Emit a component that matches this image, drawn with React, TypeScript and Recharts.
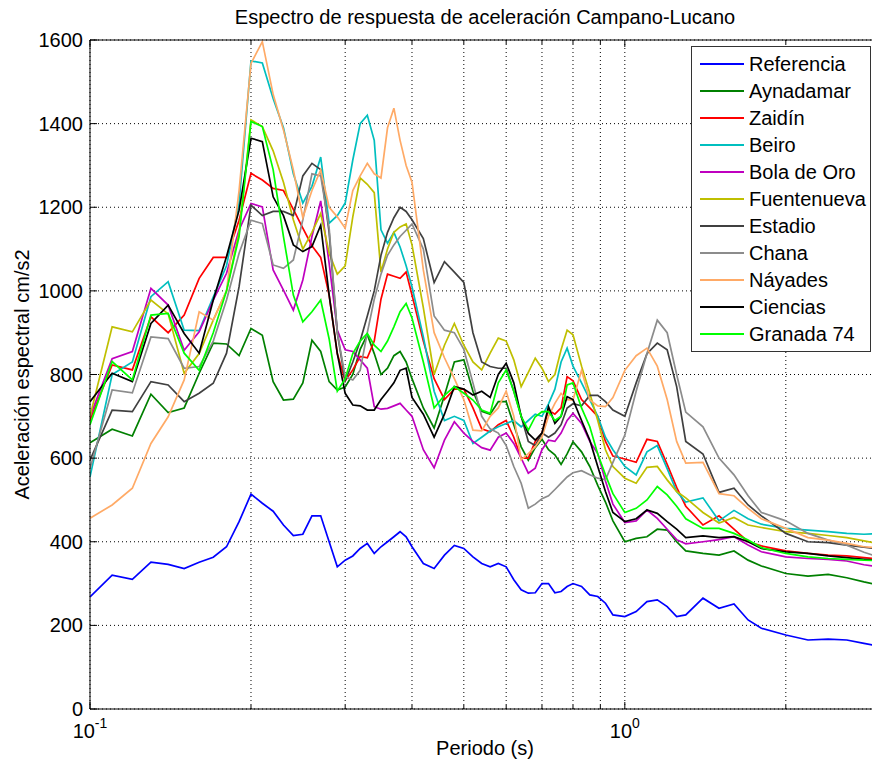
import React from 'react'
import { LineChart, Line, XAxis, YAxis, CartesianGrid, Legend } from 'recharts'

const FONT = '"Liberation Sans", Arial, Helvetica, sans-serif'

// periodo (s)
const periods = [
  0.10, 0.11, 0.12, 0.13, 0.14, 0.15, 0.16, 0.17, 0.18, 0.19,
  0.20, 0.21, 0.22, 0.23, 0.24, 0.25, 0.26, 0.27, 0.28, 0.29,
  0.30, 0.31, 0.32, 0.33, 0.34, 0.35, 0.36, 0.37, 0.38, 0.39,
  0.40, 0.42, 0.44, 0.46, 0.48, 0.50, 0.52, 0.54, 0.56, 0.58,
  0.60, 0.62, 0.64, 0.66, 0.68, 0.70, 0.72, 0.74, 0.76, 0.78,
  0.80, 0.83, 0.86, 0.89, 0.92, 0.95, 1.0, 1.05, 1.1, 1.15,
  1.2, 1.25, 1.3, 1.4, 1.5, 1.6, 1.7, 1.8, 2.0, 2.2,
  2.4, 2.6, 2.8, 3.0,
]

// aceleracion espectral (cm/s2), one value per period
const referencia = [
  268, 320, 310, 351, 346, 336, 351, 363, 388, 448,
  514, 492, 473, 440, 415, 418, 462, 462, 400, 340,
  356, 366, 384, 396, 372, 388, 400, 412, 424, 412,
  388, 348, 336, 368, 391, 384, 364, 348, 340, 348,
  340, 309, 285, 277, 278, 300, 300, 278, 281, 293,
  300, 293, 273, 269, 253, 225, 221, 233, 257, 261,
  245, 221, 225, 265, 241, 251, 213, 193, 177, 165,
  167, 165, 157, 150,
]
const aynadamar = [
  637, 669, 653, 753, 709, 720, 803, 875, 873, 845,
  910, 894, 783, 739, 741, 780, 882, 855, 783, 763,
  770, 800, 860, 895, 850, 800, 815, 845, 855, 830,
  790, 720, 672, 750, 830, 835, 760, 712, 705, 735,
  735, 680, 627, 595, 625, 645, 620, 608, 585, 610,
  639, 615, 580, 535, 495, 450, 400, 408, 412, 430,
  428, 400, 378, 372, 368, 378, 356, 342, 324, 318,
  322, 314, 304, 296,
]
const zaidin = [
  691, 823, 811, 938, 900, 942, 1030, 1080, 1080, 1169,
  1281, 1265, 1245, 1240, 1195, 1150, 1108, 1080, 990, 850,
  785, 811, 843, 840, 880, 980, 1040, 1035, 1030, 1045,
  990, 880, 790, 740, 765, 765, 720, 670, 663, 680,
  690, 650, 600, 600, 640, 660, 715, 705, 720, 795,
  785, 740, 720, 700, 640, 605, 598, 590, 645, 640,
  585, 530, 485, 440, 462, 430, 400, 390, 378, 372,
  368, 366, 362, 358,
]
const beiro = [
  555, 800, 830, 986, 1022, 906, 905, 985, 1060, 1210,
  1550, 1545, 1460, 1390, 1280, 1210, 1250, 1320, 1162, 1180,
  1210, 1313, 1400, 1420, 1360, 1146, 1114, 1140, 1105, 1060,
  1010, 890, 760, 690, 700, 690, 635, 650, 665, 675,
  683, 690, 675, 690, 705, 700, 730, 765, 830, 863,
  820, 780, 740, 700, 650, 620, 580, 560, 615, 630,
  575, 520, 495, 505, 450, 475, 455, 442, 432, 428,
  424, 420, 418, 420,
]
const bolaDeOro = [
  699, 838, 855, 1006, 966, 858, 902, 978, 1042, 1146,
  1209, 1201, 1050, 1002, 954, 1026, 1130, 1215, 1066, 906,
  859, 855, 835, 815, 723, 717, 719, 725, 731, 715,
  700, 620, 577, 643, 687, 660, 640, 625, 619, 650,
  660, 635, 600, 564, 576, 620, 643, 640, 660, 690,
  707, 683, 640, 611, 545, 490, 446, 450, 476, 456,
  430, 405, 395, 400, 405, 412, 392, 376, 364, 360,
  358, 354, 345, 340,
]
const fuentenueva = [
  700, 914, 902, 978, 945, 803, 850, 930, 1000, 1140,
  1409, 1393, 1335, 1260, 1170, 1100, 1140, 1185, 1090, 1040,
  1060, 1177, 1270, 1255, 1235, 1045, 1100, 1140, 1153, 1160,
  1110, 960, 800, 870, 922, 870, 830, 811, 851, 887,
  880, 835, 771, 805, 839, 815, 783, 800, 859, 906,
  895, 820, 755, 690, 620, 580, 552, 540, 578, 580,
  548, 520, 505, 470, 445, 458, 440, 434, 424, 420,
  415, 410, 402, 395,
]
const estadio = [
  595, 715, 711, 783, 775, 735, 755, 779, 851, 1010,
  1205, 1180, 1190, 1190, 1180, 1275, 1305, 1290, 1140, 900,
  785, 830, 880, 940, 1000, 1085, 1140, 1175, 1200, 1190,
  1170, 1125, 1020, 1070, 1045, 1020, 900, 830, 819, 815,
  815, 760, 700, 640, 630, 660, 650, 660, 680, 720,
  730, 725, 750, 750, 735, 715, 700, 780, 850, 875,
  859, 771, 640, 610, 518, 528, 488, 462, 420, 400,
  398, 392, 387, 382,
]
const chana = [
  575, 763, 756, 890, 886, 815, 819, 880, 978, 1090,
  1169, 1161, 1062, 1054, 1074, 1170, 1280, 1275, 1150, 900,
  795, 787, 810, 900, 980, 1040, 1085, 1110, 1130, 1145,
  1160, 1100, 940, 906, 900, 860, 780, 700, 670, 660,
  630, 580, 540, 480, 490, 503, 510, 525, 540, 555,
  565, 570, 560, 552, 548, 590, 655, 760, 850, 930,
  900, 800, 710, 675, 600, 560, 510, 470, 450, 420,
  404, 392, 375, 362,
]
const nayades = [
  456, 488, 528, 635, 699, 787, 950, 930, 1000, 1240,
  1544, 1596, 1470, 1385, 1289, 1175, 1240, 1289, 1200, 1177,
  1150, 1240, 1275, 1305, 1280, 1270, 1390, 1437, 1360, 1300,
  1260, 1050, 900, 840, 790, 740, 667, 665, 700, 720,
  760, 700, 596, 611, 627, 650, 700, 731, 755, 740,
  739, 810, 739, 725, 723, 745, 810, 845, 863, 820,
  740, 640, 588, 590, 515, 510, 480, 455, 432, 410,
  404, 396, 388, 385,
]
const ciencias = [
  735, 803, 783, 922, 966, 898, 851, 978, 1082, 1193,
  1365, 1357, 1225, 1180, 1110, 1094, 1106, 1157, 990, 850,
  755, 727, 725, 715, 715, 740, 760, 780, 810, 815,
  745, 705, 650, 705, 771, 765, 751, 760, 745, 800,
  827, 780, 700, 659, 643, 660, 723, 683, 700, 747,
  740, 690, 643, 580, 520, 470, 448, 455, 476, 468,
  448, 430, 410, 414, 410, 412, 400, 384, 376, 372,
  366, 362, 358, 355,
]
const granada74 = [
  680, 831, 787, 942, 946, 851, 810, 900, 1000, 1130,
  1405, 1393, 1290, 1130, 990, 926, 950, 978, 885, 760,
  790, 850, 880, 898, 870, 855, 880, 914, 950, 970,
  935, 830, 720, 750, 771, 755, 739, 715, 707, 780,
  811, 760, 700, 667, 699, 711, 711, 690, 700, 775,
  780, 720, 675, 610, 560, 515, 470, 480, 500, 532,
  512, 485, 455, 432, 432, 420, 404, 386, 372, 364,
  360, 358, 356, 355,
]

const stations = [
  { name: 'Referencia', color: '#0000ff', values: referencia },
  { name: 'Aynadamar', color: '#008000', values: aynadamar },
  { name: 'Zaidín', color: '#ff0000', values: zaidin },
  { name: 'Beiro', color: '#00bfbf', values: beiro },
  { name: 'Bola de Oro', color: '#bf00bf', values: bolaDeOro },
  { name: 'Fuentenueva', color: '#bfbf00', values: fuentenueva },
  { name: 'Estadio', color: '#404040', values: estadio },
  { name: 'Chana', color: '#8c8c8c', values: chana },
  { name: 'Náyades', color: '#ffaa66', values: nayades },
  { name: 'Ciencias', color: '#000000', values: ciencias },
  { name: 'Granada 74', color: '#00ff00', values: granada74 },
]

const xTicks = [0.1, 0.2, 0.3, 0.4, 0.5, 0.6, 0.7, 0.8, 0.9, 1, 2, 3]
const yTicks = [0, 200, 400, 600, 800, 1000, 1200, 1400, 1600]

const data = periods.map((T, i) => {
  const row: Record<string, number> = { T }
  stations.forEach((s) => {
    row[s.name] = s.values[i]
  })
  return row
})

function BottomTick(props: any) {
  const { x, y, payload } = props
  const v = payload.value
  const major = v === 0.1 || v === 1
  const len = major ? 7 : 4
  if (!major) {
    return <line x1={x} x2={x} y1={y} y2={y - len} stroke="#000" />
  }
  const exp = v === 0.1 ? '-1' : '0'
  const expW = v === 0.1 ? 12.5 : 7.8
  const start = x - (22.2 + expW) / 2
  return (
    <g>
      <line x1={x} x2={x} y1={y} y2={y - len} stroke="#000" />
      <text x={start} y={y + 29} fontSize={20} fontFamily={FONT} fill="#000">10</text>
      <text x={start + 22.2} y={y + 19} fontSize={14} fontFamily={FONT} fill="#000">{exp}</text>
    </g>
  )
}

function TopTick(props: any) {
  const { x, y, payload } = props
  const major = payload.value === 0.1 || payload.value === 1
  return <line x1={x} x2={x} y1={y} y2={y + (major ? 7 : 4)} stroke="#000" />
}

function LeftTick(props: any) {
  const { x, y, payload } = props
  return (
    <g>
      <line x1={x} x2={x + 7} y1={y} y2={y} stroke="#000" />
      <text x={x - 7} y={y} dy="0.35em" textAnchor="end" fontSize={20} fontFamily={FONT} fill="#000">
        {payload.value}
      </text>
    </g>
  )
}

function YLabel(props: any) {
  const vb = props.viewBox || { x: 0, y: 40, width: 90, height: 669 }
  const cx = vb.x + 22
  const cy = vb.y + vb.height / 2
  return (
    <text x={cx} y={cy} textAnchor="middle" dy="0.35em" transform={`rotate(-90, ${cx}, ${cy})`}
      fontSize={20} fontFamily={FONT} fill="#000">
      Aceleración espectral cm/s2
    </text>
  )
}

function XLabel(props: any) {
  const vb = props.viewBox || { x: 90, y: 709, width: 790, height: 60 }
  return (
    <text x={vb.x + vb.width / 2} y={vb.y + 46} textAnchor="middle" fontSize={20} fontFamily={FONT} fill="#000">
      Periodo (s)
    </text>
  )
}

function LegendBox() {
  return (
    <div style={{
      width: 180, height: 306, boxSizing: 'border-box', border: '1px solid #333', background: '#fff',
      paddingTop: 3, fontFamily: FONT, fontSize: 20, color: '#000',
    }}>
      {stations.map((s) => (
        <div key={s.name} style={{ display: 'flex', alignItems: 'center', height: 27.1 }}>
          <svg width={57} height={10} style={{ flex: 'none' }}>
            <line x1={8} x2={52} y1={5} y2={5} stroke={s.color} strokeWidth={2} />
          </svg>
          <span style={{ whiteSpace: 'nowrap', lineHeight: '22px' }}>{s.name}</span>
        </div>
      ))}
    </div>
  )
}

export default function App() {
  return (
    <div style={{ position: 'fixed', left: 0, top: 0, width: 872, height: 769, overflow: 'hidden', background: '#fff' }}>
      <div style={{
        position: 'absolute', left: 185, top: 5, width: 600, textAlign: 'center',
        fontFamily: FONT, fontSize: 20, lineHeight: '24px', color: '#000', zIndex: 2,
      }}>
        Espectro de respuesta de aceleración Campano-Lucano
      </div>
      <LineChart width={900} height={769} data={data} margin={{ top: 10, right: 20, bottom: 0, left: 0 }}
        style={{ fontFamily: FONT }}>
        <CartesianGrid stroke="#000" strokeDasharray="1 3" strokeWidth={1} />
        <XAxis dataKey="T" type="number" scale="log" domain={[0.1, 3]} allowDataOverflow ticks={xTicks}
          height={60} tickSize={0} tickMargin={0} tickLine={false} axisLine={{ stroke: '#000' }}
          tick={<BottomTick />} interval={0} label={<XLabel />} />
        <XAxis xAxisId="top" orientation="top" dataKey="T" type="number" scale="log" domain={[0.1, 3]}
          allowDataOverflow ticks={xTicks} height={30} tickSize={0} tickMargin={0} tickLine={false}
          axisLine={{ stroke: '#000' }} tick={<TopTick />} interval={0} />
        <YAxis type="number" domain={[0, 1600]} ticks={yTicks} width={90} tickSize={0} tickMargin={0}
          tickLine={false} axisLine={{ stroke: '#000' }} tick={<LeftTick />} interval={0} label={<YLabel />} />
        <Legend layout="vertical" align="center" verticalAlign="middle" content={<LegendBox />}
          wrapperStyle={{ left: 691, top: 46, width: 180, height: 306 }} />
        {stations.map((s) => (
          <Line key={s.name} type="linear" dataKey={s.name} name={s.name} stroke={s.color} strokeWidth={1.7}
            dot={false} activeDot={false} isAnimationActive={false} />
        ))}
      </LineChart>
    </div>
  )
}
